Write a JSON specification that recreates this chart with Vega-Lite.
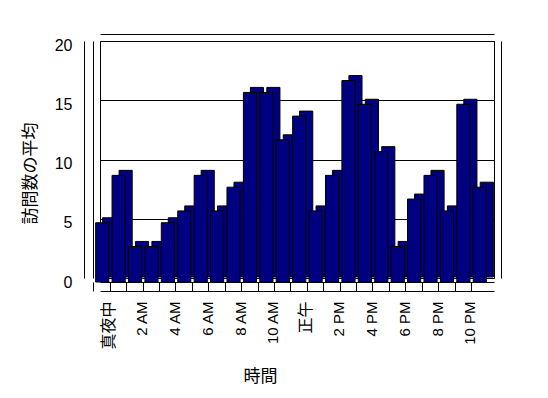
{
  "$schema": "https://vega.github.io/schema/vega-lite/v6.json",
  "width": 394,
  "height": 237,
  "autosize": "none",
  "padding": {"left": 100, "top": 41, "right": 54, "bottom": 120},
  "background": "white",
  "config": {
    "view": {"stroke": "black", "strokeWidth": 1},
    "font": "Liberation Sans",
    "axis": {"domainColor": "black", "tickColor": "black", "gridColor": "black", "labelColor": "black", "titleColor": "black", "labelFont": "Liberation Sans", "titleFont": "Noto Sans CJK JP", "titleFontWeight": "normal"}
  },
  "data": {
    "values": [
      {"hour": 0, "visits": 5}, {"hour": 1, "visits": 9}, {"hour": 2, "visits": 3}, {"hour": 3, "visits": 3},
      {"hour": 4, "visits": 5}, {"hour": 5, "visits": 6}, {"hour": 6, "visits": 9}, {"hour": 7, "visits": 6},
      {"hour": 8, "visits": 8}, {"hour": 9, "visits": 16}, {"hour": 10, "visits": 16}, {"hour": 11, "visits": 12},
      {"hour": 12, "visits": 14}, {"hour": 13, "visits": 6}, {"hour": 14, "visits": 9}, {"hour": 15, "visits": 17},
      {"hour": 16, "visits": 15}, {"hour": 17, "visits": 11}, {"hour": 18, "visits": 3}, {"hour": 19, "visits": 7},
      {"hour": 20, "visits": 9}, {"hour": 21, "visits": 6}, {"hour": 22, "visits": 15}, {"hour": 23, "visits": 8}
    ]
  },
  "resolve": {"axis": {"x": "independent", "y": "independent"}},
  "layer": [
    {
      "mark": {"type": "bar", "fill": "#000080", "stroke": "black", "strokeWidth": 1, "xOffset": 1, "x2Offset": 1, "yOffset": -1, "y2Offset": -1},
      "encoding": {
        "x": {
          "field": "hour", "type": "ordinal", "sort": null,
          "scale": {"paddingInner": 0.2, "paddingOuter": 0.1},
          "axis": {
            "orient": "bottom", "offset": 4, "domain": true, "ticks": true, "tickSize": 9,
            "bandPosition": 0, "tickOffset": -8.3, "labelOffset": 8.8, "labelAngle": -90,
            "labelPadding": 10, "labelOverlap": false, "grid": false,
            "labelFontSize": {"condition": {"test": "datum.value == 0 || datum.value == 12", "value": 16}, "value": 15},
            "labelFont": {"condition": {"test": "datum.value == 0 || datum.value == 12", "value": "Noto Sans CJK JP"}, "value": "Liberation Sans"},
            "labelExpr": "datum.value == 0 ? '真夜中' : datum.value == 12 ? '正午' : datum.value % 2 == 1 ? '' : (datum.value < 12 ? datum.value + ' AM' : (datum.value - 12) + ' PM')",
            "title": "時間", "titleFontSize": 17, "titleX": 160, "titleY": 94, "titleBaseline": "middle"
          }
        },
        "y": {
          "field": "visits", "type": "quantitative",
          "scale": {"domain": [0, 20], "nice": false},
          "axis": {
            "orient": "left", "offset": 16, "values": [0, 5, 10, 15, 20], "grid": true, "ticks": false,
            "labelPadding": 12, "labelOffset": 4, "labelFontSize": 16,
            "title": "訪問数の平均", "titleFontSize": 17, "titleX": -54, "titleY": 132, "titleBaseline": "middle", "titleAngle": -90
          }
        }
      }
    },
    {
      "mark": {"type": "bar", "fill": "#000080", "stroke": "black", "strokeWidth": 1, "xOffset": -6, "x2Offset": -6, "yOffset": 4, "y2Offset": 4},
      "encoding": {
        "x": {
          "field": "hour", "type": "ordinal", "sort": null,
          "axis": {"orient": "bottom", "offset": 13, "domain": true, "ticks": false, "labels": false, "grid": false, "title": null}
        },
        "y": {
          "field": "visits", "type": "quantitative",
          "axis": {"orient": "left", "offset": 7, "domain": true, "ticks": false, "labels": false, "grid": false, "title": null}
        }
      }
    },
    {
      "mark": {"type": "bar", "fillOpacity": 0, "strokeOpacity": 0},
      "encoding": {
        "x": {
          "field": "hour", "type": "ordinal", "sort": null,
          "axis": {"orient": "top", "offset": 7, "domain": true, "ticks": false, "labels": false, "grid": false, "title": null}
        },
        "y": {
          "field": "visits", "type": "quantitative",
          "axis": {"orient": "right", "offset": 7, "domain": true, "ticks": false, "labels": false, "grid": false, "title": null}
        }
      }
    }
  ]
}
